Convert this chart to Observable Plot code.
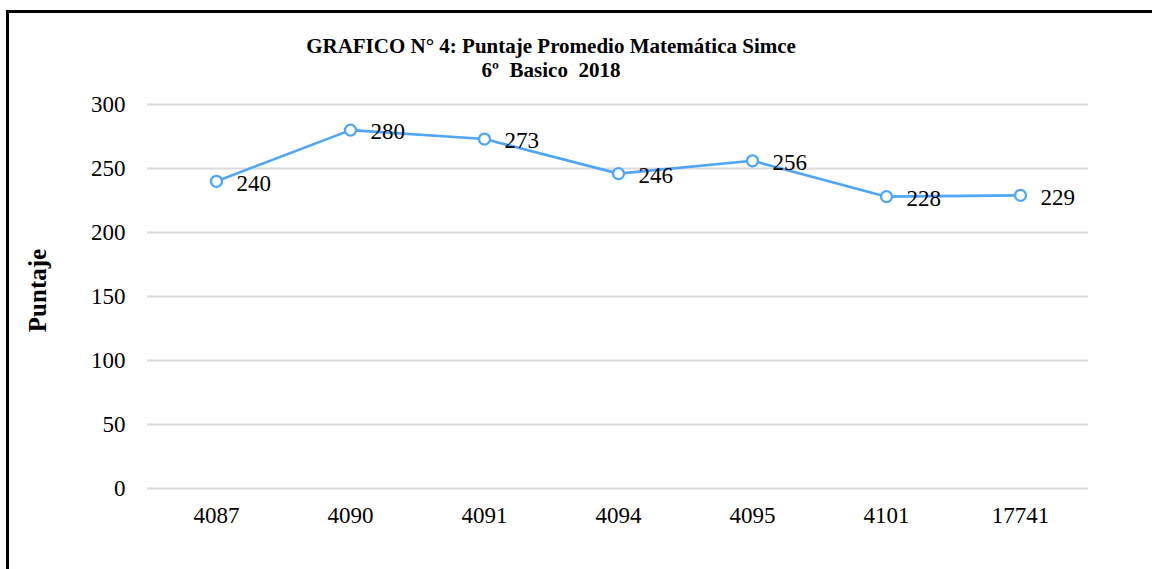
<!DOCTYPE html>
<html>
<head>
<meta charset="utf-8">
<script src="https://cdn.jsdelivr.net/npm/d3@7"></script>
<script src="https://cdn.jsdelivr.net/npm/@observablehq/plot@0.6"></script>
<style>
  html, body { margin: 0; padding: 0; background: #fff; overflow: hidden; }
  #wrap { position: relative; width: 1152px; height: 569px; }
  #frame { position: absolute; left: 6px; top: 10px; width: 1200px; height: 700px; border: 3px solid #000; box-sizing: border-box; }
  #chart { position: absolute; left: 0; top: 0; }
</style>
</head>
<body>
<div id="wrap"><div id="frame"></div><div id="chart"></div></div>
<script>
const schools = ["4087", "4090", "4091", "4094", "4095", "4101", "17741"];
const scores = [240, 280, 273, 246, 256, 228, 229];
const yTicks = [0, 50, 100, 150, 200, 250, 300];
const titleLines = ["GRAFICO N° 4: Puntaje Promedio Matemática Simce", "6º  Basico  2018"];
const yLabel = "Puntaje";

const data = schools.map((s, i) => ({school: s, score: scores[i]}));
const serif = "'Liberation Serif', 'Times New Roman', serif";
const blue = "#4DA6F8";

const chart = Plot.plot({
  width: 1152,
  height: 569,
  marginLeft: 147,
  marginRight: 64,
  marginTop: 104,
  marginBottom: 81,
  style: {fontFamily: serif, fontSize: "23px", color: "#000", background: "transparent", overflow: "visible"},
  x: {type: "band", domain: schools, padding: 0, label: null, tickSize: 0, tickPadding: 18},
  y: {domain: [0, 300], ticks: yTicks, label: null, tickSize: 0, tickPadding: 22},
  marks: [
    Plot.gridY(yTicks, {stroke: "#D9D9D9", strokeOpacity: 1, strokeWidth: 2}),
    Plot.line(data, {x: "school", y: "score", stroke: blue, strokeWidth: 2.6}),
    Plot.dot(data, {x: "school", y: "score", r: 5.5, stroke: blue, strokeWidth: 2.3, fill: "white"}),
    Plot.text(data, {x: "school", y: "score", text: d => String(d.score), textAnchor: "start", dx: 20, dy: 2, fontSize: 23, fill: "#000"}),
    Plot.text([titleLines[0]], {frameAnchor: "top", text: d => d, dx: -67, dy: -66, fontWeight: "bold", fontSize: 21, fill: "#000"}),
    Plot.text([titleLines[1]], {frameAnchor: "top", text: d => d, dx: -67, dy: -42, fontWeight: "bold", fontSize: 21, fill: "#000"}),
    Plot.text([yLabel], {frameAnchor: "left", text: d => d, rotate: -90, textAnchor: "middle", dx: -110, dy: -6, fontWeight: "bold", fontSize: 25, fill: "#000"})
  ]
});
document.getElementById("chart").appendChild(chart);
</script>
</body>
</html>
